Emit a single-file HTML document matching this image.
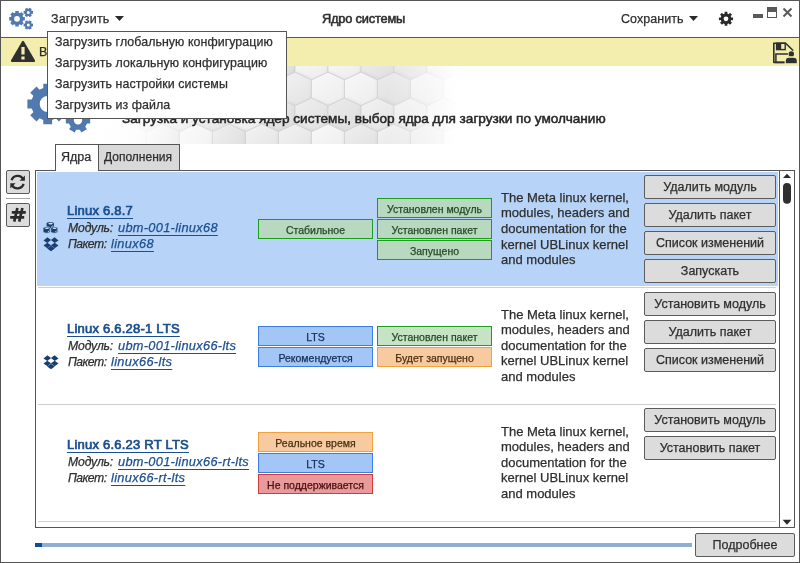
<!DOCTYPE html>
<html><head><meta charset="utf-8"><style>
html,body{margin:0;padding:0;}
body{width:800px;height:563px;position:relative;overflow:hidden;background:#fff;font-family:"Liberation Sans", sans-serif;-webkit-font-smoothing:antialiased;}
.t{position:absolute;line-height:0;white-space:nowrap;will-change:transform;-webkit-text-stroke:0.25px currentColor;}
svg{display:block}
</style></head><body>
<div style="position:absolute;left:0px;top:37px;width:800px;height:1px;box-sizing:border-box;background:#5a5a5a"></div>
<svg style="position:absolute;left:0px;top:0px;" width="40" height="37" viewBox="0 0 40 37"><path fill="#5079b0" fill-rule="evenodd" d="M23.06,17.09 L24.81,17.05 L24.81,20.55 L23.06,20.51 L22.50,21.88 L23.75,23.09 L21.29,25.55 L20.08,24.30 L18.71,24.86 L18.75,26.61 L15.25,26.61 L15.29,24.86 L13.92,24.30 L12.71,25.55 L10.25,23.09 L11.50,21.88 L10.94,20.51 L9.19,20.55 L9.19,17.05 L10.94,17.09 L11.50,15.72 L10.25,14.51 L12.71,12.05 L13.92,13.30 L15.29,12.74 L15.25,10.99 L18.75,10.99 L18.71,12.74 L20.08,13.30 L21.29,12.05 L23.75,14.51 L22.50,15.72 Z M19.90,18.80 A2.9,2.9 0 1,0 14.10,18.80 A2.9,2.9 0 1,0 19.90,18.80 Z M31.76,11.10 L33.00,11.01 L33.00,13.79 L31.76,13.70 L31.16,14.75 L31.85,15.77 L29.44,17.16 L28.90,16.05 L27.70,16.05 L27.16,17.16 L24.75,15.77 L25.44,14.75 L24.84,13.70 L23.60,13.79 L23.60,11.01 L24.84,11.10 L25.44,10.05 L24.75,9.03 L27.16,7.64 L27.70,8.75 L28.90,8.75 L29.44,7.64 L31.85,9.03 L31.16,10.05 Z M29.80,12.40 A1.5,1.5 0 1,0 26.80,12.40 A1.5,1.5 0 1,0 29.80,12.40 Z M31.76,23.70 L33.00,23.61 L33.00,26.39 L31.76,26.30 L31.16,27.35 L31.85,28.37 L29.44,29.76 L28.90,28.65 L27.70,28.65 L27.16,29.76 L24.75,28.37 L25.44,27.35 L24.84,26.30 L23.60,26.39 L23.60,23.61 L24.84,23.70 L25.44,22.65 L24.75,21.63 L27.16,20.24 L27.70,21.35 L28.90,21.35 L29.44,20.24 L31.85,21.63 L31.16,22.65 Z M29.80,25.00 A1.5,1.5 0 1,0 26.80,25.00 A1.5,1.5 0 1,0 29.80,25.00 Z"/></svg>
<div class="t" style="left:51px;top:18.5px;font-size:12.5px;font-weight:400;font-style:normal;color:#2e2e2e;letter-spacing:0.15px;">Загрузить</div>
<svg style="position:absolute;left:114px;top:15px;" width="11" height="7" viewBox="0 0 11 7"><polygon points="1,1 10,1 5.5,6" fill="#2a2a2a"/></svg>
<div class="t" style="left:321.5px;top:18.8px;font-size:12.8px;font-weight:400;font-style:normal;color:#2e2e2e;letter-spacing:-0.18px;-webkit-text-stroke:0.55px currentColor;">Ядро системы</div>
<div class="t" style="left:621.2px;top:18.5px;font-size:12.5px;font-weight:400;font-style:normal;color:#2e2e2e;letter-spacing:0.05px;">Сохранить</div>
<svg style="position:absolute;left:688px;top:15px;" width="11" height="7" viewBox="0 0 11 7"><polygon points="1,1 10,1 5.5,6" fill="#2a2a2a"/></svg>
<svg style="position:absolute;left:0px;top:0px;pointer-events:none" width="800" height="37" viewBox="0 0 800 37"><path fill="#2a2a2a" fill-rule="evenodd" d="M731.24,17.49 L733.06,17.40 L733.06,20.20 L731.24,20.11 L730.63,21.58 L731.99,22.80 L730.00,24.79 L728.78,23.43 L727.31,24.04 L727.40,25.86 L724.60,25.86 L724.69,24.04 L723.22,23.43 L722.00,24.79 L720.01,22.80 L721.37,21.58 L720.76,20.11 L718.94,20.20 L718.94,17.40 L720.76,17.49 L721.37,16.02 L720.01,14.80 L722.00,12.81 L723.22,14.17 L724.69,13.56 L724.60,11.74 L727.40,11.74 L727.31,13.56 L728.78,14.17 L730.00,12.81 L731.99,14.80 L730.63,16.02 Z M728.40,18.80 A2.4,2.4 0 1,0 723.60,18.80 A2.4,2.4 0 1,0 728.40,18.80 Z"/></svg>
<div style="position:absolute;left:753px;top:14px;width:10px;height:4px;box-sizing:border-box;background:#595959"></div>
<div style="position:absolute;left:767px;top:7px;width:10px;height:11px;box-sizing:border-box;border:1px solid #595959;border-top:5px solid #595959"></div>
<svg style="position:absolute;left:781px;top:6px;" width="13" height="13" viewBox="0 0 13 13"><path d="M2.5,2.5 L10.5,10.5 M10.5,2.5 L2.5,10.5" stroke="#595959" stroke-width="1.9"/></svg>
<div style="position:absolute;left:1px;top:38px;width:798px;height:28px;box-sizing:border-box;background:#f4eeae"></div>
<svg style="position:absolute;left:9px;top:38px;" width="30" height="27" viewBox="0 0 30 27"><path d="M13,3.5 Q14,1.8 15,3.5 L25.8,22 Q26.6,24 24.6,24 L3.4,24 Q1.4,24 2.2,22 Z" fill="#2f2f2f"/><rect x="12.4" y="9" width="3.2" height="7.5" fill="#f4eeae"/><rect x="12.4" y="18.5" width="3.2" height="3" fill="#f4eeae"/></svg>
<div class="t" style="left:39px;top:52px;font-size:12.5px;font-weight:400;font-style:normal;color:#2e2e2e;">Внимание</div>
<svg style="position:absolute;left:770px;top:40px;" width="30" height="26" viewBox="0 0 30 26"><path d="M3.8,3.2 L15.6,3.2 L22.6,10 L22.6,22.4 L3.8,22.4 Z" fill="none" stroke="#2f2f2f" stroke-width="1.6" stroke-linejoin="round"/><rect x="6.6" y="3.2" width="8.6" height="6.4" fill="none" stroke="#2f2f2f" stroke-width="1.4"/><rect x="6.6" y="3.2" width="4.6" height="6.4" fill="#2f2f2f"/><rect x="5.9" y="14" width="13.6" height="8.4" fill="none" stroke="#2f2f2f" stroke-width="1.5"/><circle cx="21.3" cy="13.9" r="3.4" fill="#f4eeae"/><circle cx="21.3" cy="13.9" r="2.7" fill="#2f2f2f"/><path d="M15.2,23.8 L15.2,21 Q15.2,17.2 19,17.2 L23.6,17.2 Q27.4,17.2 27.4,21 L27.4,23.8 Z" fill="#2f2f2f" stroke="#f4eeae" stroke-width="1.2"/></svg>
<svg style="position:absolute;left:0px;top:66px;" width="800" height="78" viewBox="0 0 800 78"><defs><filter id="sh" x="-20%" y="-20%" width="140%" height="140%"><feDropShadow dx="1.5" dy="1.8" stdDeviation="2.2" flood-color="#000" flood-opacity="0.16"/></filter><linearGradient id="hg0" x1="0" y1="0" x2="0.8" y2="1"><stop offset="0" stop-color="#f8f8f8"/><stop offset="1" stop-color="#eeeeee"/></linearGradient><linearGradient id="hg1" x1="0" y1="0" x2="0.8" y2="1"><stop offset="0" stop-color="#ececec"/><stop offset="1" stop-color="#dedede"/></linearGradient><linearGradient id="hg2" x1="0" y1="0" x2="0.8" y2="1"><stop offset="0" stop-color="#f3f3f3"/><stop offset="1" stop-color="#e4e4e4"/></linearGradient><linearGradient id="hg3" x1="0" y1="0" x2="0.8" y2="1"><stop offset="0" stop-color="#efefef"/><stop offset="1" stop-color="#e1e1e1"/></linearGradient><linearGradient id="fade" x1="0" y1="0" x2="1" y2="0"><stop offset="0" stop-color="#fff" stop-opacity="1"/><stop offset="0.10" stop-color="#fff" stop-opacity="0.9"/><stop offset="0.25" stop-color="#fff" stop-opacity="0.35"/><stop offset="0.40" stop-color="#fff" stop-opacity="0"/><stop offset="0.80" stop-color="#fff" stop-opacity="0"/><stop offset="1" stop-color="#fff" stop-opacity="1"/></linearGradient></defs><g transform="translate(0,-66)"><rect x="0" y="66" width="800" height="78" fill="#fff"/><svg x="100" y="66" width="358" height="78" viewBox="100 66 358 78" overflow="hidden"><rect x="100" y="66" width="358" height="78" fill="#e6e6e6"/><polygon points="80.50,46.30 97.00,54.00 97.00,72.20 80.50,79.90 64.00,72.20 64.00,54.00" fill="url(#hg3)" stroke="#d2d2d2" stroke-width="0.8" filter="url(#sh)"/><polygon points="113.50,46.30 130.00,54.00 130.00,72.20 113.50,79.90 97.00,72.20 97.00,54.00" fill="url(#hg0)" stroke="#d2d2d2" stroke-width="0.8" filter="url(#sh)"/><polygon points="146.50,46.30 163.00,54.00 163.00,72.20 146.50,79.90 130.00,72.20 130.00,54.00" fill="url(#hg1)" stroke="#d2d2d2" stroke-width="0.8" filter="url(#sh)"/><polygon points="179.50,46.30 196.00,54.00 196.00,72.20 179.50,79.90 163.00,72.20 163.00,54.00" fill="url(#hg2)" stroke="#d2d2d2" stroke-width="0.8" filter="url(#sh)"/><polygon points="212.50,46.30 229.00,54.00 229.00,72.20 212.50,79.90 196.00,72.20 196.00,54.00" fill="url(#hg3)" stroke="#d2d2d2" stroke-width="0.8" filter="url(#sh)"/><polygon points="245.50,46.30 262.00,54.00 262.00,72.20 245.50,79.90 229.00,72.20 229.00,54.00" fill="url(#hg0)" stroke="#d2d2d2" stroke-width="0.8" filter="url(#sh)"/><polygon points="278.50,46.30 295.00,54.00 295.00,72.20 278.50,79.90 262.00,72.20 262.00,54.00" fill="url(#hg1)" stroke="#d2d2d2" stroke-width="0.8" filter="url(#sh)"/><polygon points="311.50,46.30 328.00,54.00 328.00,72.20 311.50,79.90 295.00,72.20 295.00,54.00" fill="url(#hg0)" stroke="#d2d2d2" stroke-width="0.8" filter="url(#sh)"/><polygon points="344.50,46.30 361.00,54.00 361.00,72.20 344.50,79.90 328.00,72.20 328.00,54.00" fill="url(#hg0)" stroke="#d2d2d2" stroke-width="0.8" filter="url(#sh)"/><polygon points="377.50,46.30 394.00,54.00 394.00,72.20 377.50,79.90 361.00,72.20 361.00,54.00" fill="url(#hg3)" stroke="#d2d2d2" stroke-width="0.8" filter="url(#sh)"/><polygon points="410.50,46.30 427.00,54.00 427.00,72.20 410.50,79.90 394.00,72.20 394.00,54.00" fill="url(#hg1)" stroke="#d2d2d2" stroke-width="0.8" filter="url(#sh)"/><polygon points="443.50,46.30 460.00,54.00 460.00,72.20 443.50,79.90 427.00,72.20 427.00,54.00" fill="url(#hg2)" stroke="#d2d2d2" stroke-width="0.8" filter="url(#sh)"/><polygon points="476.50,46.30 493.00,54.00 493.00,72.20 476.50,79.90 460.00,72.20 460.00,54.00" fill="url(#hg3)" stroke="#d2d2d2" stroke-width="0.8" filter="url(#sh)"/><polygon points="97.00,72.20 113.50,79.90 113.50,98.10 97.00,105.80 80.50,98.10 80.50,79.90" fill="url(#hg1)" stroke="#d2d2d2" stroke-width="0.8" filter="url(#sh)"/><polygon points="130.00,72.20 146.50,79.90 146.50,98.10 130.00,105.80 113.50,98.10 113.50,79.90" fill="url(#hg2)" stroke="#d2d2d2" stroke-width="0.8" filter="url(#sh)"/><polygon points="163.00,72.20 179.50,79.90 179.50,98.10 163.00,105.80 146.50,98.10 146.50,79.90" fill="url(#hg3)" stroke="#d2d2d2" stroke-width="0.8" filter="url(#sh)"/><polygon points="196.00,72.20 212.50,79.90 212.50,98.10 196.00,105.80 179.50,98.10 179.50,79.90" fill="url(#hg0)" stroke="#d2d2d2" stroke-width="0.8" filter="url(#sh)"/><polygon points="229.00,72.20 245.50,79.90 245.50,98.10 229.00,105.80 212.50,98.10 212.50,79.90" fill="url(#hg1)" stroke="#d2d2d2" stroke-width="0.8" filter="url(#sh)"/><polygon points="262.00,72.20 278.50,79.90 278.50,98.10 262.00,105.80 245.50,98.10 245.50,79.90" fill="url(#hg2)" stroke="#d2d2d2" stroke-width="0.8" filter="url(#sh)"/><polygon points="295.00,72.20 311.50,79.90 311.50,98.10 295.00,105.80 278.50,98.10 278.50,79.90" fill="url(#hg2)" stroke="#d2d2d2" stroke-width="0.8" filter="url(#sh)"/><polygon points="328.00,72.20 344.50,79.90 344.50,98.10 328.00,105.80 311.50,98.10 311.50,79.90" fill="url(#hg0)" stroke="#d2d2d2" stroke-width="0.8" filter="url(#sh)"/><polygon points="361.00,72.20 377.50,79.90 377.50,98.10 361.00,105.80 344.50,98.10 344.50,79.90" fill="url(#hg0)" stroke="#d2d2d2" stroke-width="0.8" filter="url(#sh)"/><polygon points="394.00,72.20 410.50,79.90 410.50,98.10 394.00,105.80 377.50,98.10 377.50,79.90" fill="url(#hg1)" stroke="#d2d2d2" stroke-width="0.8" filter="url(#sh)"/><polygon points="427.00,72.20 443.50,79.90 443.50,98.10 427.00,105.80 410.50,98.10 410.50,79.90" fill="url(#hg2)" stroke="#d2d2d2" stroke-width="0.8" filter="url(#sh)"/><polygon points="460.00,72.20 476.50,79.90 476.50,98.10 460.00,105.80 443.50,98.10 443.50,79.90" fill="url(#hg0)" stroke="#d2d2d2" stroke-width="0.8" filter="url(#sh)"/><polygon points="493.00,72.20 509.50,79.90 509.50,98.10 493.00,105.80 476.50,98.10 476.50,79.90" fill="url(#hg1)" stroke="#d2d2d2" stroke-width="0.8" filter="url(#sh)"/><polygon points="80.50,98.10 97.00,105.80 97.00,124.00 80.50,131.70 64.00,124.00 64.00,105.80" fill="url(#hg3)" stroke="#d2d2d2" stroke-width="0.8" filter="url(#sh)"/><polygon points="113.50,98.10 130.00,105.80 130.00,124.00 113.50,131.70 97.00,124.00 97.00,105.80" fill="url(#hg0)" stroke="#d2d2d2" stroke-width="0.8" filter="url(#sh)"/><polygon points="146.50,98.10 163.00,105.80 163.00,124.00 146.50,131.70 130.00,124.00 130.00,105.80" fill="url(#hg1)" stroke="#d2d2d2" stroke-width="0.8" filter="url(#sh)"/><polygon points="179.50,98.10 196.00,105.80 196.00,124.00 179.50,131.70 163.00,124.00 163.00,105.80" fill="url(#hg2)" stroke="#d2d2d2" stroke-width="0.8" filter="url(#sh)"/><polygon points="212.50,98.10 229.00,105.80 229.00,124.00 212.50,131.70 196.00,124.00 196.00,105.80" fill="url(#hg3)" stroke="#d2d2d2" stroke-width="0.8" filter="url(#sh)"/><polygon points="245.50,98.10 262.00,105.80 262.00,124.00 245.50,131.70 229.00,124.00 229.00,105.80" fill="url(#hg0)" stroke="#d2d2d2" stroke-width="0.8" filter="url(#sh)"/><polygon points="278.50,98.10 295.00,105.80 295.00,124.00 278.50,131.70 262.00,124.00 262.00,105.80" fill="url(#hg1)" stroke="#d2d2d2" stroke-width="0.8" filter="url(#sh)"/><polygon points="311.50,98.10 328.00,105.80 328.00,124.00 311.50,131.70 295.00,124.00 295.00,105.80" fill="url(#hg3)" stroke="#d2d2d2" stroke-width="0.8" filter="url(#sh)"/><polygon points="344.50,98.10 361.00,105.80 361.00,124.00 344.50,131.70 328.00,124.00 328.00,105.80" fill="url(#hg1)" stroke="#d2d2d2" stroke-width="0.8" filter="url(#sh)"/><polygon points="377.50,98.10 394.00,105.80 394.00,124.00 377.50,131.70 361.00,124.00 361.00,105.80" fill="url(#hg2)" stroke="#d2d2d2" stroke-width="0.8" filter="url(#sh)"/><polygon points="410.50,98.10 427.00,105.80 427.00,124.00 410.50,131.70 394.00,124.00 394.00,105.80" fill="url(#hg2)" stroke="#d2d2d2" stroke-width="0.8" filter="url(#sh)"/><polygon points="443.50,98.10 460.00,105.80 460.00,124.00 443.50,131.70 427.00,124.00 427.00,105.80" fill="url(#hg2)" stroke="#d2d2d2" stroke-width="0.8" filter="url(#sh)"/><polygon points="476.50,98.10 493.00,105.80 493.00,124.00 476.50,131.70 460.00,124.00 460.00,105.80" fill="url(#hg3)" stroke="#d2d2d2" stroke-width="0.8" filter="url(#sh)"/><polygon points="97.00,124.00 113.50,131.70 113.50,149.90 97.00,157.60 80.50,149.90 80.50,131.70" fill="url(#hg1)" stroke="#d2d2d2" stroke-width="0.8" filter="url(#sh)"/><polygon points="130.00,124.00 146.50,131.70 146.50,149.90 130.00,157.60 113.50,149.90 113.50,131.70" fill="url(#hg2)" stroke="#d2d2d2" stroke-width="0.8" filter="url(#sh)"/><polygon points="163.00,124.00 179.50,131.70 179.50,149.90 163.00,157.60 146.50,149.90 146.50,131.70" fill="url(#hg3)" stroke="#d2d2d2" stroke-width="0.8" filter="url(#sh)"/><polygon points="196.00,124.00 212.50,131.70 212.50,149.90 196.00,157.60 179.50,149.90 179.50,131.70" fill="url(#hg0)" stroke="#d2d2d2" stroke-width="0.8" filter="url(#sh)"/><polygon points="229.00,124.00 245.50,131.70 245.50,149.90 229.00,157.60 212.50,149.90 212.50,131.70" fill="url(#hg1)" stroke="#d2d2d2" stroke-width="0.8" filter="url(#sh)"/><polygon points="262.00,124.00 278.50,131.70 278.50,149.90 262.00,157.60 245.50,149.90 245.50,131.70" fill="url(#hg2)" stroke="#d2d2d2" stroke-width="0.8" filter="url(#sh)"/><polygon points="295.00,124.00 311.50,131.70 311.50,149.90 295.00,157.60 278.50,149.90 278.50,131.70" fill="url(#hg2)" stroke="#d2d2d2" stroke-width="0.8" filter="url(#sh)"/><polygon points="328.00,124.00 344.50,131.70 344.50,149.90 328.00,157.60 311.50,149.90 311.50,131.70" fill="url(#hg0)" stroke="#d2d2d2" stroke-width="0.8" filter="url(#sh)"/><polygon points="361.00,124.00 377.50,131.70 377.50,149.90 361.00,157.60 344.50,149.90 344.50,131.70" fill="url(#hg3)" stroke="#d2d2d2" stroke-width="0.8" filter="url(#sh)"/><polygon points="394.00,124.00 410.50,131.70 410.50,149.90 394.00,157.60 377.50,149.90 377.50,131.70" fill="url(#hg2)" stroke="#d2d2d2" stroke-width="0.8" filter="url(#sh)"/><polygon points="427.00,124.00 443.50,131.70 443.50,149.90 427.00,157.60 410.50,149.90 410.50,131.70" fill="url(#hg3)" stroke="#d2d2d2" stroke-width="0.8" filter="url(#sh)"/><polygon points="460.00,124.00 476.50,131.70 476.50,149.90 460.00,157.60 443.50,149.90 443.50,131.70" fill="url(#hg0)" stroke="#d2d2d2" stroke-width="0.8" filter="url(#sh)"/><polygon points="493.00,124.00 509.50,131.70 509.50,149.90 493.00,157.60 476.50,149.90 476.50,131.70" fill="url(#hg1)" stroke="#d2d2d2" stroke-width="0.8" filter="url(#sh)"/><polygon points="80.50,149.90 97.00,157.60 97.00,175.80 80.50,183.50 64.00,175.80 64.00,157.60" fill="url(#hg3)" stroke="#d2d2d2" stroke-width="0.8" filter="url(#sh)"/><polygon points="113.50,149.90 130.00,157.60 130.00,175.80 113.50,183.50 97.00,175.80 97.00,157.60" fill="url(#hg0)" stroke="#d2d2d2" stroke-width="0.8" filter="url(#sh)"/><polygon points="146.50,149.90 163.00,157.60 163.00,175.80 146.50,183.50 130.00,175.80 130.00,157.60" fill="url(#hg1)" stroke="#d2d2d2" stroke-width="0.8" filter="url(#sh)"/><polygon points="179.50,149.90 196.00,157.60 196.00,175.80 179.50,183.50 163.00,175.80 163.00,157.60" fill="url(#hg2)" stroke="#d2d2d2" stroke-width="0.8" filter="url(#sh)"/><polygon points="212.50,149.90 229.00,157.60 229.00,175.80 212.50,183.50 196.00,175.80 196.00,157.60" fill="url(#hg3)" stroke="#d2d2d2" stroke-width="0.8" filter="url(#sh)"/><polygon points="245.50,149.90 262.00,157.60 262.00,175.80 245.50,183.50 229.00,175.80 229.00,157.60" fill="url(#hg0)" stroke="#d2d2d2" stroke-width="0.8" filter="url(#sh)"/><polygon points="278.50,149.90 295.00,157.60 295.00,175.80 278.50,183.50 262.00,175.80 262.00,157.60" fill="url(#hg1)" stroke="#d2d2d2" stroke-width="0.8" filter="url(#sh)"/><polygon points="311.50,149.90 328.00,157.60 328.00,175.80 311.50,183.50 295.00,175.80 295.00,157.60" fill="url(#hg2)" stroke="#d2d2d2" stroke-width="0.8" filter="url(#sh)"/><polygon points="344.50,149.90 361.00,157.60 361.00,175.80 344.50,183.50 328.00,175.80 328.00,157.60" fill="url(#hg3)" stroke="#d2d2d2" stroke-width="0.8" filter="url(#sh)"/><polygon points="377.50,149.90 394.00,157.60 394.00,175.80 377.50,183.50 361.00,175.80 361.00,157.60" fill="url(#hg0)" stroke="#d2d2d2" stroke-width="0.8" filter="url(#sh)"/><polygon points="410.50,149.90 427.00,157.60 427.00,175.80 410.50,183.50 394.00,175.80 394.00,157.60" fill="url(#hg1)" stroke="#d2d2d2" stroke-width="0.8" filter="url(#sh)"/><polygon points="443.50,149.90 460.00,157.60 460.00,175.80 443.50,183.50 427.00,175.80 427.00,157.60" fill="url(#hg2)" stroke="#d2d2d2" stroke-width="0.8" filter="url(#sh)"/><polygon points="476.50,149.90 493.00,157.60 493.00,175.80 476.50,183.50 460.00,175.80 460.00,157.60" fill="url(#hg3)" stroke="#d2d2d2" stroke-width="0.8" filter="url(#sh)"/></svg><rect x="100" y="66" width="358" height="78" fill="url(#fade)"/></g></svg>
<svg style="position:absolute;left:0px;top:0px;" width="120" height="140" viewBox="0 0 120 140"><path fill="#5079b0" fill-rule="evenodd" d="M63.60,99.60 L68.02,99.54 L68.02,108.46 L63.60,108.40 L62.06,112.13 L65.22,115.21 L58.91,121.52 L55.83,118.36 L52.10,119.90 L52.16,124.32 L43.24,124.32 L43.30,119.90 L39.57,118.36 L36.49,121.52 L30.18,115.21 L33.34,112.13 L31.80,108.40 L27.38,108.46 L27.38,99.54 L31.80,99.60 L33.34,95.87 L30.18,92.79 L36.49,86.48 L39.57,89.64 L43.30,88.10 L43.24,83.68 L52.16,83.68 L52.10,88.10 L55.83,89.64 L58.91,86.48 L65.22,92.79 L62.06,95.87 Z M55.70,104.00 A8,8 0 1,0 39.70,104.00 A8,8 0 1,0 55.70,104.00 Z M87.09,117.21 L90.17,117.04 L90.17,123.56 L87.09,123.39 L85.22,126.63 L86.91,129.21 L81.26,132.47 L79.87,129.72 L76.13,129.72 L74.74,132.47 L69.09,129.21 L70.78,126.63 L68.91,123.39 L65.83,123.56 L65.83,117.04 L68.91,117.21 L70.78,113.97 L69.09,111.39 L74.74,108.13 L76.13,110.88 L79.87,110.88 L81.26,108.13 L86.91,111.39 L85.22,113.97 Z M82.20,120.30 A4.2,4.2 0 1,0 73.80,120.30 A4.2,4.2 0 1,0 82.20,120.30 Z M87.09,84.41 L90.17,84.24 L90.17,90.76 L87.09,90.59 L85.22,93.83 L86.91,96.41 L81.26,99.67 L79.87,96.92 L76.13,96.92 L74.74,99.67 L69.09,96.41 L70.78,93.83 L68.91,90.59 L65.83,90.76 L65.83,84.24 L68.91,84.41 L70.78,81.17 L69.09,78.59 L74.74,75.33 L76.13,78.08 L79.87,78.08 L81.26,75.33 L86.91,78.59 L85.22,81.17 Z M82.20,87.50 A4.2,4.2 0 1,0 73.80,87.50 A4.2,4.2 0 1,0 82.20,87.50 Z"/></svg>
<div class="t" style="left:121.5px;top:119.0px;font-size:13.6px;font-weight:400;font-style:normal;color:#262626;letter-spacing:0px;-webkit-text-stroke:0.5px currentColor;">Загрузка и установка ядер системы, выбор ядра для загрузки по умолчанию</div>
<div style="position:absolute;left:35px;top:170px;width:760px;height:358px;box-sizing:border-box;border:1px solid #555555"></div>
<div style="position:absolute;left:55px;top:144px;width:44px;height:27px;box-sizing:border-box;background:#fff;border:1px solid #555555;border-bottom:none"></div>
<div style="position:absolute;left:98px;top:144px;width:82px;height:27px;box-sizing:border-box;background:#d9d9d9;border:1px solid #555555;border-bottom:1px solid #555555"></div>
<div class="t" style="left:61px;top:157.3px;font-size:12.5px;font-weight:400;font-style:normal;color:#2e2e2e;">Ядра</div>
<div class="t" style="left:104px;top:157.3px;font-size:12px;font-weight:400;font-style:normal;color:#2e2e2e;">Дополнения</div>
<div style="position:absolute;left:6px;top:170px;width:24px;height:24px;box-sizing:border-box;background:#dcdcdc;border:1px solid #5a5a5a;border-radius:2px"></div>
<svg style="position:absolute;left:6px;top:170px;" width="24" height="24" viewBox="0 0 24 24"><path d="M5.58,10.26 A6.3,6.3 0 0 1 17.31,9.44" fill="none" stroke="#2a2a2a" stroke-width="2.3"/><polygon points="13.6,10.7 18.9,10.7 18.9,5.4" fill="#2a2a2a"/><path d="M17.62,13.94 A6.3,6.3 0 0 1 5.89,14.76" fill="none" stroke="#2a2a2a" stroke-width="2.3"/><polygon points="9.6,13.3 4.3,13.3 4.3,18.6" fill="#2a2a2a"/></svg>
<div style="position:absolute;left:6px;top:198px;width:24px;height:1px;box-sizing:border-box;background:#a8a8a8"></div>
<div style="position:absolute;left:6px;top:203px;width:24px;height:24px;box-sizing:border-box;background:#dcdcdc;border:1px solid #5a5a5a;border-radius:2px"></div>
<svg style="position:absolute;left:6px;top:203px;" width="24" height="24" viewBox="0 0 24 24"><g stroke="#2a2a2a" stroke-linecap="butt"><path stroke-width="2.7" d="M11.4,5 L8.2,18.6 M16.4,5 L13.2,18.6"/><path stroke-width="2.6" d="M5.8,9.4 L19.8,9.4 M4.2,14.4 L18.2,14.4"/></g></svg>
<div style="position:absolute;left:37px;top:172px;width:741px;height:114px;box-sizing:border-box;background:#b7d3f7"></div>
<div style="position:absolute;left:38px;top:287px;width:738px;height:1px;box-sizing:border-box;background:#cfcfcf"></div>
<div style="position:absolute;left:38px;top:404px;width:738px;height:1px;box-sizing:border-box;background:#cfcfcf"></div>
<div style="position:absolute;left:38px;top:521px;width:738px;height:1px;box-sizing:border-box;background:#cfcfcf"></div>
<div style="position:absolute;left:779px;top:170px;width:16px;height:358px;box-sizing:border-box;border:1px solid #555555;background:#fff"></div>
<svg style="position:absolute;left:779px;top:170px;" width="16" height="358" viewBox="0 0 16 358"><polygon points="4,8.1 12,8.1 8,3.7" fill="#2a2a2a"/><polygon points="3.6,349.8 12.4,349.8 8,354.8" fill="#2a2a2a"/><rect x="4" y="13.1" width="8" height="20.6" rx="4" fill="#2f2f2f"/></svg>
<div class="t" style="left:66.5px;top:211px;font-size:13px;font-weight:400;font-style:normal;color:#1b4f8f;letter-spacing:0.22px;text-decoration:underline;text-underline-offset:2.5px;text-decoration-thickness:1px;-webkit-text-stroke:0.7px currentColor;">Linux 6.8.7</div>
<div class="t" style="left:67.5px;top:227.7px;font-size:12.2px;font-weight:400;font-style:italic;color:#2e2e2e;letter-spacing:-0.15px;">Модуль:</div>
<div class="t" style="left:118px;top:227.7px;font-size:12.8px;font-weight:400;font-style:italic;color:#1b4f8f;letter-spacing:0.3px;text-decoration:underline;text-underline-offset:2.5px;text-decoration-thickness:1px;">ubm-001-linux68</div>
<div class="t" style="left:67.5px;top:244px;font-size:12.2px;font-weight:400;font-style:italic;color:#2e2e2e;letter-spacing:-0.5px;">Пакет:</div>
<div class="t" style="left:110.5px;top:244px;font-size:12.8px;font-weight:400;font-style:italic;color:#1b4f8f;letter-spacing:0.33px;text-decoration:underline;text-underline-offset:2.5px;text-decoration-thickness:1px;">linux68</div>
<svg style="position:absolute;left:43px;top:237px;" width="16" height="15" viewBox="0 0 16 15"><g fill="#1a3f6f"><polygon points="0.5,3.4 4.4,0.2 8.1,3.1 4.3,6.1"/><polygon points="7.9,3.1 11.6,0.2 15.5,3.4 11.7,6.1"/><polygon points="0.5,8.6 4.3,5.7 8.1,8.3 4.4,11.3"/><polygon points="7.9,8.3 11.7,5.7 15.5,8.6 11.6,11.3"/><polygon points="4.2,11.6 8,8.8 11.8,11.6 8,14.2"/></g></svg>
<svg style="position:absolute;left:42px;top:221px;" width="18" height="14" viewBox="0 0 18 14"><path d="M4.60,2.60 L4.60,5.40 A3.7,1.7 0 0 0 12.00,5.40 L12.00,2.60 A3.7,1.7 0 0 0 4.60,2.60 Z" fill="#1a3f6f" /><ellipse cx="8.60" cy="2.55" rx="2.22" ry="0.85" fill="#d3e2f6"/><path d="M9.60,5.80 l1.1,-1.3" stroke="#d3e2f6" stroke-width="0.9"/><path d="M1.10,7.30 L1.10,10.60 A3.5,1.6 0 0 0 8.10,10.60 L8.10,7.30 A3.5,1.6 0 0 0 1.10,7.30 Z" fill="#1a3f6f" stroke="#b7d3f7" stroke-width="0.7"/><ellipse cx="4.90" cy="7.25" rx="2.10" ry="0.80" fill="#d3e2f6"/><path d="M6.00,11.00 l1.1,-1.3" stroke="#d3e2f6" stroke-width="0.9"/><path d="M8.75,7.30 L8.75,10.60 A3.5,1.6 0 0 0 15.75,10.60 L15.75,7.30 A3.5,1.6 0 0 0 8.75,7.30 Z" fill="#1a3f6f" stroke="#b7d3f7" stroke-width="0.7"/><ellipse cx="12.55" cy="7.25" rx="2.10" ry="0.80" fill="#d3e2f6"/><path d="M13.50,11.00 l1.1,-1.3" stroke="#d3e2f6" stroke-width="0.9"/></svg>
<div style="position:absolute;left:258px;top:219px;width:115px;height:20px;box-sizing:border-box;background:#b8d8c0;border:1px solid #1a9e1a"></div>
<div class="t" style="left:258px;width:115px;text-align:center;top:229.8px;font-size:10.5px;font-weight:400;font-style:normal;color:#234a23;">Стабильное</div>
<div style="position:absolute;left:377px;top:198px;width:115px;height:20px;box-sizing:border-box;background:#b8d8c0;border:1px solid #1a9e1a"></div>
<div class="t" style="left:377px;width:115px;text-align:center;top:208.8px;font-size:10.5px;font-weight:400;font-style:normal;color:#234a23;">Установлен модуль</div>
<div style="position:absolute;left:377px;top:219px;width:115px;height:20px;box-sizing:border-box;background:#b8d8c0;border:1px solid #1a9e1a"></div>
<div class="t" style="left:377px;width:115px;text-align:center;top:229.8px;font-size:10.5px;font-weight:400;font-style:normal;color:#234a23;">Установлен пакет</div>
<div style="position:absolute;left:377px;top:240px;width:115px;height:20px;box-sizing:border-box;background:#b8d8c0;border:1px solid #1a9e1a"></div>
<div class="t" style="left:377px;width:115px;text-align:center;top:250.8px;font-size:10.5px;font-weight:400;font-style:normal;color:#234a23;">Запущено</div>
<div class="t" style="left:501px;top:197.8px;font-size:13px;font-weight:400;font-style:normal;color:#2e2e2e;">The Meta linux kernel,</div>
<div class="t" style="left:501px;top:213.4px;font-size:13px;font-weight:400;font-style:normal;color:#2e2e2e;">modules, headers and</div>
<div class="t" style="left:501px;top:229.0px;font-size:13px;font-weight:400;font-style:normal;color:#2e2e2e;">documentation for the</div>
<div class="t" style="left:501px;top:244.60000000000002px;font-size:13px;font-weight:400;font-style:normal;color:#2e2e2e;">kernel UBLinux kernel</div>
<div class="t" style="left:501px;top:260.2px;font-size:13px;font-weight:400;font-style:normal;color:#2e2e2e;">and modules</div>
<div style="position:absolute;left:644px;top:175px;width:132px;height:24px;box-sizing:border-box;background:#dcdcdc;border:1px solid #5c5c5c;border-radius:2px"></div>
<div class="t" style="left:644px;width:132px;text-align:center;top:186.6px;font-size:12.5px;font-weight:400;font-style:normal;color:#2e2e2e;">Удалить модуль</div>
<div style="position:absolute;left:644px;top:203px;width:132px;height:24px;box-sizing:border-box;background:#dcdcdc;border:1px solid #5c5c5c;border-radius:2px"></div>
<div class="t" style="left:644px;width:132px;text-align:center;top:214.6px;font-size:12.5px;font-weight:400;font-style:normal;color:#2e2e2e;">Удалить пакет</div>
<div style="position:absolute;left:644px;top:231px;width:132px;height:24px;box-sizing:border-box;background:#dcdcdc;border:1px solid #5c5c5c;border-radius:2px"></div>
<div class="t" style="left:644px;width:132px;text-align:center;top:242.6px;font-size:12.5px;font-weight:400;font-style:normal;color:#2e2e2e;">Список изменений</div>
<div style="position:absolute;left:644px;top:259px;width:132px;height:24px;box-sizing:border-box;background:#dcdcdc;border:1px solid #5c5c5c;border-radius:2px"></div>
<div class="t" style="left:644px;width:132px;text-align:center;top:270.6px;font-size:12.5px;font-weight:400;font-style:normal;color:#2e2e2e;">Запускать</div>
<div class="t" style="left:66.5px;top:329px;font-size:13px;font-weight:400;font-style:normal;color:#1b4f8f;letter-spacing:0.22px;text-decoration:underline;text-underline-offset:2.5px;text-decoration-thickness:1px;-webkit-text-stroke:0.7px currentColor;">Linux 6.6.28-1 LTS</div>
<div class="t" style="left:67.5px;top:345.7px;font-size:12.2px;font-weight:400;font-style:italic;color:#2e2e2e;letter-spacing:-0.15px;">Модуль:</div>
<div class="t" style="left:118px;top:345.7px;font-size:12.8px;font-weight:400;font-style:italic;color:#1b4f8f;letter-spacing:0.3px;text-decoration:underline;text-underline-offset:2.5px;text-decoration-thickness:1px;">ubm-001-linux66-lts</div>
<div class="t" style="left:67.5px;top:362px;font-size:12.2px;font-weight:400;font-style:italic;color:#2e2e2e;letter-spacing:-0.5px;">Пакет:</div>
<div class="t" style="left:110.5px;top:362px;font-size:12.8px;font-weight:400;font-style:italic;color:#1b4f8f;letter-spacing:0.33px;text-decoration:underline;text-underline-offset:2.5px;text-decoration-thickness:1px;">linux66-lts</div>
<svg style="position:absolute;left:43px;top:355px;" width="16" height="15" viewBox="0 0 16 15"><g fill="#1a3f6f"><polygon points="0.5,3.4 4.4,0.2 8.1,3.1 4.3,6.1"/><polygon points="7.9,3.1 11.6,0.2 15.5,3.4 11.7,6.1"/><polygon points="0.5,8.6 4.3,5.7 8.1,8.3 4.4,11.3"/><polygon points="7.9,8.3 11.7,5.7 15.5,8.6 11.6,11.3"/><polygon points="4.2,11.6 8,8.8 11.8,11.6 8,14.2"/></g></svg>
<div style="position:absolute;left:258px;top:326px;width:115px;height:20px;box-sizing:border-box;background:#a3c6f6;border:1px solid #3a7ee0"></div>
<div class="t" style="left:258px;width:115px;text-align:center;top:336.8px;font-size:10.5px;font-weight:400;font-style:normal;color:#142f55;">LTS</div>
<div style="position:absolute;left:258px;top:347px;width:115px;height:20px;box-sizing:border-box;background:#a3c6f6;border:1px solid #3a7ee0"></div>
<div class="t" style="left:258px;width:115px;text-align:center;top:357.8px;font-size:10.5px;font-weight:400;font-style:normal;color:#142f55;">Рекомендуется</div>
<div style="position:absolute;left:377px;top:326px;width:115px;height:20px;box-sizing:border-box;background:#c6e3c6;border:1px solid #1f9f1f"></div>
<div class="t" style="left:377px;width:115px;text-align:center;top:336.8px;font-size:10.5px;font-weight:400;font-style:normal;color:#234a23;">Установлен пакет</div>
<div style="position:absolute;left:377px;top:347px;width:115px;height:20px;box-sizing:border-box;background:#f8caa0;border:1px solid #f3a13a"></div>
<div class="t" style="left:377px;width:115px;text-align:center;top:357.8px;font-size:10.5px;font-weight:400;font-style:normal;color:#4a2e12;">Будет запущено</div>
<div class="t" style="left:501px;top:314.5px;font-size:13px;font-weight:400;font-style:normal;color:#2e2e2e;">The Meta linux kernel,</div>
<div class="t" style="left:501px;top:330.1px;font-size:13px;font-weight:400;font-style:normal;color:#2e2e2e;">modules, headers and</div>
<div class="t" style="left:501px;top:345.7px;font-size:13px;font-weight:400;font-style:normal;color:#2e2e2e;">documentation for the</div>
<div class="t" style="left:501px;top:361.3px;font-size:13px;font-weight:400;font-style:normal;color:#2e2e2e;">kernel UBLinux kernel</div>
<div class="t" style="left:501px;top:376.9px;font-size:13px;font-weight:400;font-style:normal;color:#2e2e2e;">and modules</div>
<div style="position:absolute;left:644px;top:292px;width:132px;height:24px;box-sizing:border-box;background:#dcdcdc;border:1px solid #5c5c5c;border-radius:2px"></div>
<div class="t" style="left:644px;width:132px;text-align:center;top:303.6px;font-size:12.5px;font-weight:400;font-style:normal;color:#2e2e2e;">Установить модуль</div>
<div style="position:absolute;left:644px;top:320px;width:132px;height:24px;box-sizing:border-box;background:#dcdcdc;border:1px solid #5c5c5c;border-radius:2px"></div>
<div class="t" style="left:644px;width:132px;text-align:center;top:331.6px;font-size:12.5px;font-weight:400;font-style:normal;color:#2e2e2e;">Удалить пакет</div>
<div style="position:absolute;left:644px;top:348px;width:132px;height:24px;box-sizing:border-box;background:#dcdcdc;border:1px solid #5c5c5c;border-radius:2px"></div>
<div class="t" style="left:644px;width:132px;text-align:center;top:359.6px;font-size:12.5px;font-weight:400;font-style:normal;color:#2e2e2e;">Список изменений</div>
<div class="t" style="left:66.5px;top:445px;font-size:13px;font-weight:400;font-style:normal;color:#1b4f8f;letter-spacing:0.22px;text-decoration:underline;text-underline-offset:2.5px;text-decoration-thickness:1px;-webkit-text-stroke:0.7px currentColor;">Linux 6.6.23 RT LTS</div>
<div class="t" style="left:67.5px;top:461.7px;font-size:12.2px;font-weight:400;font-style:italic;color:#2e2e2e;letter-spacing:-0.15px;">Модуль:</div>
<div class="t" style="left:118px;top:461.7px;font-size:12.8px;font-weight:400;font-style:italic;color:#1b4f8f;letter-spacing:0.3px;text-decoration:underline;text-underline-offset:2.5px;text-decoration-thickness:1px;">ubm-001-linux66-rt-lts</div>
<div class="t" style="left:67.5px;top:478px;font-size:12.2px;font-weight:400;font-style:italic;color:#2e2e2e;letter-spacing:-0.5px;">Пакет:</div>
<div class="t" style="left:110.5px;top:478px;font-size:12.8px;font-weight:400;font-style:italic;color:#1b4f8f;letter-spacing:0.33px;text-decoration:underline;text-underline-offset:2.5px;text-decoration-thickness:1px;">linux66-rt-lts</div>
<div style="position:absolute;left:258px;top:432px;width:115px;height:20px;box-sizing:border-box;background:#f8caa0;border:1px solid #f3a13a"></div>
<div class="t" style="left:258px;width:115px;text-align:center;top:442.8px;font-size:10.5px;font-weight:400;font-style:normal;color:#4a2e12;">Реальное время</div>
<div style="position:absolute;left:258px;top:453px;width:115px;height:20px;box-sizing:border-box;background:#a3c6f6;border:1px solid #3a7ee0"></div>
<div class="t" style="left:258px;width:115px;text-align:center;top:463.8px;font-size:10.5px;font-weight:400;font-style:normal;color:#142f55;">LTS</div>
<div style="position:absolute;left:258px;top:474px;width:115px;height:20px;box-sizing:border-box;background:#e99a9a;border:1px solid #d43a3a"></div>
<div class="t" style="left:258px;width:115px;text-align:center;top:484.8px;font-size:10.5px;font-weight:400;font-style:normal;color:#4a0e0e;">Не поддерживается</div>
<div class="t" style="left:501px;top:431.5px;font-size:13px;font-weight:400;font-style:normal;color:#2e2e2e;">The Meta linux kernel,</div>
<div class="t" style="left:501px;top:447.1px;font-size:13px;font-weight:400;font-style:normal;color:#2e2e2e;">modules, headers and</div>
<div class="t" style="left:501px;top:462.7px;font-size:13px;font-weight:400;font-style:normal;color:#2e2e2e;">documentation for the</div>
<div class="t" style="left:501px;top:478.3px;font-size:13px;font-weight:400;font-style:normal;color:#2e2e2e;">kernel UBLinux kernel</div>
<div class="t" style="left:501px;top:493.9px;font-size:13px;font-weight:400;font-style:normal;color:#2e2e2e;">and modules</div>
<div style="position:absolute;left:644px;top:408px;width:132px;height:24px;box-sizing:border-box;background:#dcdcdc;border:1px solid #5c5c5c;border-radius:2px"></div>
<div class="t" style="left:644px;width:132px;text-align:center;top:419.6px;font-size:12.5px;font-weight:400;font-style:normal;color:#2e2e2e;">Установить модуль</div>
<div style="position:absolute;left:644px;top:436px;width:132px;height:24px;box-sizing:border-box;background:#dcdcdc;border:1px solid #5c5c5c;border-radius:2px"></div>
<div class="t" style="left:644px;width:132px;text-align:center;top:447.6px;font-size:12.5px;font-weight:400;font-style:normal;color:#2e2e2e;">Установить пакет</div>
<div style="position:absolute;left:35px;top:543px;width:657px;height:4px;box-sizing:border-box;background:#8db0d2"></div>
<div style="position:absolute;left:35px;top:543px;width:7px;height:4px;box-sizing:border-box;background:#0f4d96"></div>
<div style="position:absolute;left:695px;top:533px;width:100px;height:24px;box-sizing:border-box;background:#dcdcdc;border:1px solid #5c5c5c;border-radius:2px"></div>
<div class="t" style="left:695px;width:100px;text-align:center;top:544.6px;font-size:12.5px;font-weight:400;font-style:normal;color:#2e2e2e;">Подробнее</div>
<div style="position:absolute;left:47px;top:31px;width:240px;height:88px;box-sizing:border-box;background:#fff;border:1px solid #555555"></div>
<div class="t" style="left:54.8px;top:42.4px;font-size:12.4px;font-weight:400;font-style:normal;color:#2e2e2e;letter-spacing:0.06px;">Загрузить глобальную конфигурацию</div>
<div class="t" style="left:54.8px;top:63.2px;font-size:12.4px;font-weight:400;font-style:normal;color:#2e2e2e;letter-spacing:0.06px;">Загрузить локальную конфигурацию</div>
<div class="t" style="left:54.8px;top:84.0px;font-size:12.4px;font-weight:400;font-style:normal;color:#2e2e2e;letter-spacing:0.06px;">Загрузить настройки системы</div>
<div class="t" style="left:54.8px;top:104.80000000000001px;font-size:12.4px;font-weight:400;font-style:normal;color:#2e2e2e;letter-spacing:0.06px;">Загрузить из файла</div>
<div style="position:absolute;left:0px;top:0px;width:800px;height:563px;box-sizing:border-box;border:1px solid #555"></div>
</body></html>
